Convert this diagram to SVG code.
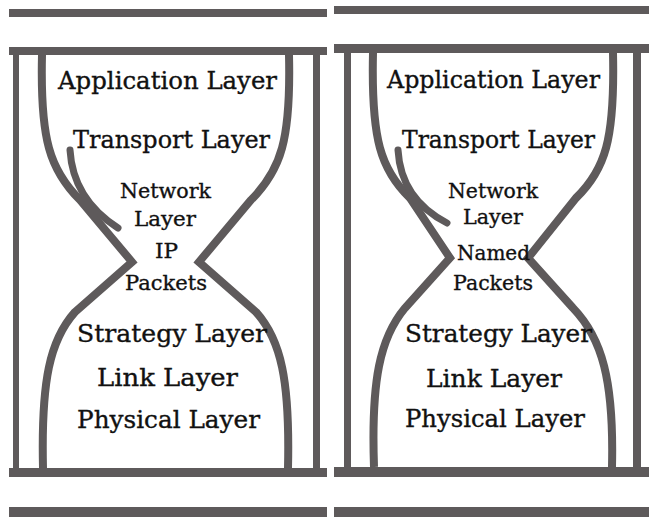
<svg xmlns="http://www.w3.org/2000/svg" width="649" height="517" viewBox="0 0 649 517">
<style>
.bar{fill:#5e5a5b}
.post{fill:#5e5a5b}
.glass{fill:none;stroke:#5e5a5b;stroke-width:8;stroke-linejoin:miter;stroke-miterlimit:10}
.arc{fill:none;stroke:#5e5a5b;stroke-width:7;stroke-linecap:round}
text{font-family:"DejaVu Serif","Liberation Serif",serif;fill:#111111;stroke:#111111;stroke-width:0.35;text-anchor:middle}
.big{font-size:24.5px}
.small{font-size:20px}
</style>
<rect width="649" height="517" fill="#ffffff"/>
<g id="left-panel">
  <g id="left-frame">
    <rect class="bar" x="9" y="9" width="318" height="8"/>
    <rect class="bar" x="9" y="47" width="318" height="8"/>
    <rect class="post" x="13" y="55" width="6" height="413"/>
    <rect class="post" x="313" y="55" width="7" height="413"/>
    <rect class="bar" x="9" y="468" width="318" height="9"/>
    <rect class="bar" x="9" y="507" width="318" height="10"/>
  </g>
  <g id="left-glass">
    <path class="glass" d="M42,55 C40,140 50,170 80,200 L132,262 L75,312 C50,340 41,380 43,468"/>
    <path class="glass" d="M289,55 C291,140 281,170 251,200 L199,262 L256,312 C281,340 290,380 288,468"/>
    <path class="arc" d="M70,150 C72,185 90,210 118,228"/>
  </g>
  <g id="left-labels">
    <text class="big" x="167.5" y="89" textLength="219" lengthAdjust="spacingAndGlyphs">Application Layer</text>
    <text class="big" x="171.5" y="148" textLength="197" lengthAdjust="spacingAndGlyphs">Transport Layer</text>
    <text class="small" x="165.5" y="198" textLength="91" lengthAdjust="spacingAndGlyphs">Network</text>
    <text class="small" x="165" y="226" textLength="62" lengthAdjust="spacingAndGlyphs">Layer</text>
    <text class="small" x="166.5" y="258" textLength="23" lengthAdjust="spacingAndGlyphs">IP</text>
    <text class="small" x="166" y="290" textLength="82" lengthAdjust="spacingAndGlyphs">Packets</text>
    <text class="big" x="172" y="342" textLength="190" lengthAdjust="spacingAndGlyphs">Strategy Layer</text>
    <text class="big" x="167.5" y="386" textLength="141" lengthAdjust="spacingAndGlyphs">Link Layer</text>
    <text class="big" x="168.5" y="428" textLength="183" lengthAdjust="spacingAndGlyphs">Physical Layer</text>
  </g>
</g>
<g id="right-panel">
  <g id="right-frame">
    <rect class="bar" x="334" y="6" width="315" height="8"/>
    <rect class="bar" x="334" y="44" width="315" height="9"/>
    <rect class="post" x="344" y="53" width="7" height="414"/>
    <rect class="post" x="633" y="53" width="8" height="414"/>
    <rect class="bar" x="334" y="467" width="315" height="10"/>
    <rect class="bar" x="334" y="507" width="315" height="10"/>
  </g>
  <g id="right-glass">
    <path class="glass" d="M373,53 C371,140 381,170 410,198 L450,258 L405,308 C380,338 371,380 374,467"/>
    <path class="glass" d="M613,53 C615,140 605,170 576,198 L528,258 L573,308 C602,338 614,380 612,467"/>
    <path class="arc" d="M398,150 C400,185 418,208 447,223"/>
  </g>
  <g id="right-labels">
    <text class="big" x="493.5" y="88" textLength="213" lengthAdjust="spacingAndGlyphs">Application Layer</text>
    <text class="big" x="498.5" y="148" textLength="193" lengthAdjust="spacingAndGlyphs">Transport Layer</text>
    <text class="small" x="493" y="198" textLength="90" lengthAdjust="spacingAndGlyphs">Network</text>
    <text class="small" x="493" y="224" textLength="60" lengthAdjust="spacingAndGlyphs">Layer</text>
    <text class="small" x="493.5" y="260" textLength="73" lengthAdjust="spacingAndGlyphs">Named</text>
    <text class="small" x="493" y="290" textLength="80" lengthAdjust="spacingAndGlyphs">Packets</text>
    <text class="big" x="498.5" y="342" textLength="187" lengthAdjust="spacingAndGlyphs">Strategy Layer</text>
    <text class="big" x="494" y="387" textLength="136" lengthAdjust="spacingAndGlyphs">Link Layer</text>
    <text class="big" x="495" y="427" textLength="180" lengthAdjust="spacingAndGlyphs">Physical Layer</text>
  </g>
</g>
</svg>
